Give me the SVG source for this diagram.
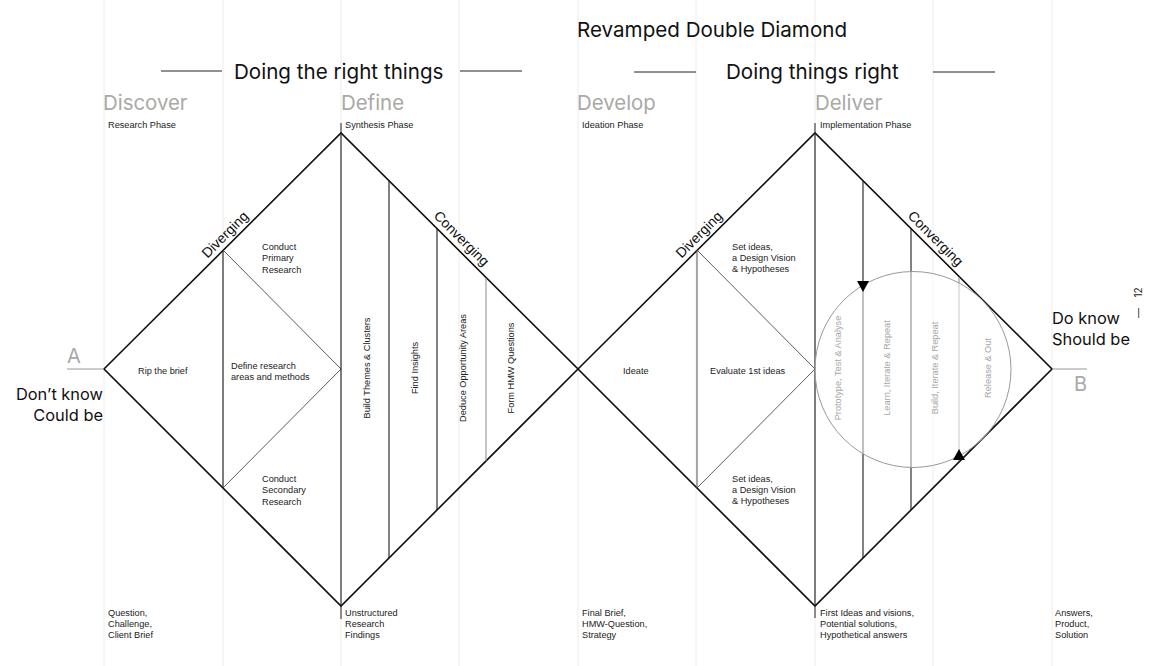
<svg xmlns="http://www.w3.org/2000/svg" width="1155" height="666" viewBox="0 0 1155 666">
<style>
.grid{stroke:#ececec;stroke-width:1}
.edge{stroke:#111;stroke-width:1.6;fill:none}
.div{stroke:#1a1a1a;stroke-width:1.1}
.div2{stroke:#555;stroke-width:1}
.thin{stroke:#333;stroke-width:0.8;fill:none}
.lt{stroke:#8a8a8a;stroke-width:1}
.tick{stroke:#222;stroke-width:1}
.h{font-family:Inter,"Liberation Sans",sans-serif;fill:#111;font-size:20.6px}
.big{font-family:Inter,"Liberation Sans",sans-serif;fill:#111;font-size:16.4px}
.ph{font-family:Inter,"Liberation Sans",sans-serif;fill:#a9a9a5;font-size:20.4px}
.ab{font-family:Inter,"Liberation Sans",sans-serif;fill:#a9a9a5;font-size:20px}
.s{font-family:"Liberation Sans",Arial,sans-serif;font-size:9.2px;fill:#222}
.g{font-family:"Liberation Sans",Arial,sans-serif;font-size:9.2px;fill:#a8a8a8}
.dc{font-family:"Liberation Sans",Arial,sans-serif;font-size:14px;fill:#111}
.pg{font-family:Inter,"Liberation Sans",sans-serif;font-size:10px;fill:#222}
</style>
<rect width="1155" height="666" fill="#fff"/>
<g id="grid">
<line class="grid" x1="104" y1="0" x2="104" y2="666"/>
<line class="grid" x1="223" y1="0" x2="223" y2="666"/>
<line class="grid" x1="341" y1="0" x2="341" y2="666"/>
<line class="grid" x1="459" y1="0" x2="459" y2="666"/>
<line class="grid" x1="578" y1="0" x2="578" y2="666"/>
<line class="grid" x1="696" y1="0" x2="696" y2="666"/>
<line class="grid" x1="815" y1="0" x2="815" y2="666"/>
<line class="grid" x1="933" y1="0" x2="933" y2="666"/>
<line class="grid" x1="1052" y1="0" x2="1052" y2="666"/>
</g>
<g id="headings">
<text class="h" x="577" y="37">Revamped Double Diamond</text>
<line class="tick" x1="161" y1="71" x2="222" y2="71"/>
<text class="h" x="234" y="79">Doing the right things</text>
<line class="tick" x1="460" y1="71" x2="522" y2="71"/>
<line class="tick" x1="634" y1="72" x2="696" y2="72"/>
<text class="h" x="726" y="79">Doing things right</text>
<line class="tick" x1="933" y1="72" x2="995" y2="72"/>
<text class="ph" x="103" y="110">Discover</text>
<text class="s" x="108" y="127.5">Research Phase</text>
<text class="ph" x="341" y="110">Define</text>
<text class="s" x="345" y="127.5">Synthesis Phase</text>
<text class="ph" x="577" y="110">Develop</text>
<text class="s" x="582" y="127.5">Ideation Phase</text>
<text class="ph" x="815" y="110">Deliver</text>
<text class="s" x="820" y="127.5">Implementation Phase</text>
</g>
<g id="connectors">
<polygon class="edge" points="104,369 341,133 578,369 341,606"/>
<polygon class="edge" points="578,369 815,133 1052,369 815,606"/>
<line class="tick" x1="341" y1="123" x2="341" y2="133"/>
<line class="tick" x1="341" y1="606" x2="341" y2="619"/>
<line class="tick" x1="815" y1="123" x2="815" y2="133"/>
<line class="tick" x1="815" y1="606" x2="815" y2="618"/>
<line stroke="#999" stroke-width="1" x1="67" y1="369" x2="104" y2="369"/>
<line stroke="#999" stroke-width="1" x1="1052" y1="369" x2="1087" y2="369"/>
<line class="div" x1="223" y1="250" x2="223" y2="488"/>
<polyline class="thin" points="223,250 341,369 223,488"/>
<line class="div" x1="341" y1="133" x2="341" y2="606"/>
<line class="div" x1="389" y1="181" x2="389" y2="558"/>
<line class="div" x1="437" y1="229" x2="437" y2="510"/>
<line class="lt" x1="486" y1="278" x2="486" y2="461"/>
<line class="div2" x1="697" y1="250" x2="697" y2="488"/>
<polyline class="thin" points="697,250 815,369 697,488"/>
<line class="div" x1="815" y1="133" x2="815" y2="606"/>
<line class="div" x1="863" y1="181" x2="863" y2="558"/>
<line class="div" x1="911" y1="229" x2="911" y2="510"/>
<line class="lt" x1="959" y1="277" x2="959" y2="461"/>
</g>
<g id="loop">
<circle cx="913" cy="369.5" r="98" fill="#fff" fill-opacity="0.5" stroke="#999" stroke-width="1"/>
<polygon points="857,281 869,281 863,292" fill="#000"/>
<polygon points="953,460 965,460 959,449" fill="#000"/>
<text class="g" transform="translate(841,368) rotate(-90)" text-anchor="middle">Prototype, Test &amp; Analyse</text>
<text class="g" transform="translate(890,368) rotate(-90)" text-anchor="middle">Learn, Iterate &amp; Repeat</text>
<text class="g" transform="translate(938,368) rotate(-90)" text-anchor="middle">Build, Iterate &amp; Repeat</text>
<text class="g" transform="translate(990.5,368) rotate(-90)" text-anchor="middle">Release &amp; Out</text>
</g>
<g id="ends">
<text class="ab" x="67" y="363">A</text>
<text class="big" x="103" y="400" text-anchor="end">Don’t know</text>
<text class="big" x="103" y="421" text-anchor="end">Could be</text>
<text class="ab" x="1074" y="391">B</text>
<text class="big" x="1052" y="323.5">Do know</text>
<text class="big" x="1052" y="345">Should be</text>
<text class="pg" transform="translate(1141.5,318) rotate(-90)">—</text>
<text class="pg" transform="translate(1141.5,297.5) rotate(-90)">12</text>
</g>
<g id="discover">
<text class="dc" transform="translate(228.4,237.9) rotate(-45)" text-anchor="middle">Diverging</text>
<text class="s" x="138" y="374">Rip the brief</text>
<text class="s" x="262" y="250">Conduct</text>
<text class="s" x="262" y="261.3">Primary</text>
<text class="s" x="262" y="272.6">Research</text>
<text class="s" x="231" y="368.5">Define research</text>
<text class="s" x="231" y="379.8">areas and methods</text>
<text class="s" x="262" y="482">Conduct</text>
<text class="s" x="262" y="493.3">Secondary</text>
<text class="s" x="262" y="504.6">Research</text>
</g>
<g id="define">
<text class="dc" transform="translate(458.2,241.8) rotate(45)" text-anchor="middle">Converging</text>
<text class="s" transform="translate(369.5,368) rotate(-90)" text-anchor="middle">Build Themes &amp; Clusters</text>
<text class="s" transform="translate(417.5,368) rotate(-90)" text-anchor="middle">Find Insights</text>
<text class="s" transform="translate(465.5,368) rotate(-90)" text-anchor="middle">Deduce Opportunity Areas</text>
<text class="s" transform="translate(514,368) rotate(-90)" text-anchor="middle">Form HMW Questions</text>
</g>
<g id="develop">
<text class="dc" transform="translate(702.4,237.9) rotate(-45)" text-anchor="middle">Diverging</text>
<text class="s" x="623" y="374">Ideate</text>
<text class="s" x="710" y="374">Evaluate 1st ideas</text>
<text class="s" x="732" y="249.5">Set ideas,</text>
<text class="s" x="732" y="260.8">a Design Vision</text>
<text class="s" x="732" y="272.1">&amp; Hypotheses</text>
<text class="s" x="732" y="481.5">Set ideas,</text>
<text class="s" x="732" y="492.8">a Design Vision</text>
<text class="s" x="732" y="504.1">&amp; Hypotheses</text>
</g>
<g id="deliver">
<text class="dc" transform="translate(932.2,241.8) rotate(45)" text-anchor="middle">Converging</text>
</g>
<g id="outputs">
<text class="s" x="108" y="615.5">Question,</text>
<text class="s" x="108" y="626.5">Challenge,</text>
<text class="s" x="108" y="637.5">Client Brief</text>
<text class="s" x="345" y="615.5">Unstructured</text>
<text class="s" x="345" y="626.5">Research</text>
<text class="s" x="345" y="637.5">Findings</text>
<text class="s" x="582" y="615.5">Final Brief,</text>
<text class="s" x="582" y="626.5">HMW-Question,</text>
<text class="s" x="582" y="637.5">Strategy</text>
<text class="s" x="820" y="615.5">First Ideas and visions,</text>
<text class="s" x="820" y="626.5">Potential solutions,</text>
<text class="s" x="820" y="637.5">Hypothetical answers</text>
<text class="s" x="1055" y="615.5">Answers,</text>
<text class="s" x="1055" y="626.5">Product,</text>
<text class="s" x="1055" y="637.5">Solution</text>
</g>
</svg>
